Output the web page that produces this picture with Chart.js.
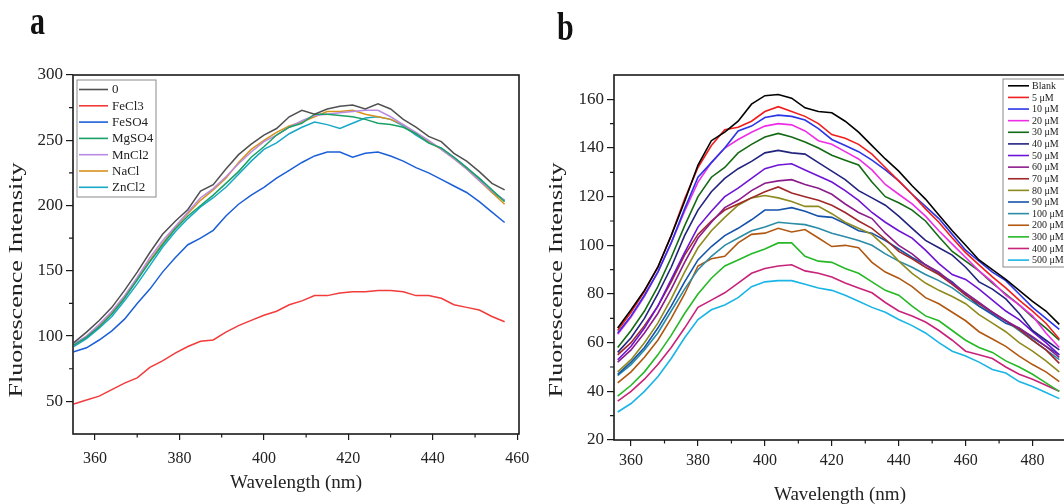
<!DOCTYPE html>
<html>
<head>
<meta charset="utf-8">
<script src="https://cdn.jsdelivr.net/npm/chart.js@4/dist/chart.umd.min.js"></script>
<style>
  html, body { margin: 0; padding: 0; background: #fff; overflow: hidden; width: 1064px; height: 504px; }
  #chartA { position: absolute; left: 0; top: 0; }
  #chartB { position: absolute; left: 540px; top: 0; }
</style>
</head>
<body>
<canvas id="chartA" width="540" height="504"></canvas>
<canvas id="chartB" width="580" height="504"></canvas>
<script>
// ---- panel a : metal salts ----
const lambdaA = [355,358,361,364,367,370,373,376,379,382,385,388,391,394,397,400,403,406,409,412,415,418,421,424,427,430,433,436,439,442,445,448,451,454,457];
const ctrl0  = [95,103,112,122,135,149,164,178,188,197,211,216,228,239,247,254,259,268,273,270,274,276,277,274,278,274,266,260,253,249,240,234,226,217,212];
const fecl3  = [48,51,54,59,64,68,76,81,87,92,96,97,103,108,112,116,119,124,127,131,131,133,134,134,135,135,134,131,131,129,124,122,120,115,111];
const feso4  = [88,91,97,104,113,125,136,149,160,170,175,181,192,201,208,214,221,227,233,238,241,241,237,240,241,238,234,229,225,220,215,210,203,195,187];
const mgso4  = [93,99,107,117,129,143,157,170,182,192,200,208,217,226,237,245,254,260,263,270,270,269,268,266,263,262,260,255,248,244,237,229,221,212,203];
const mncl2  = [94,100,109,119,131,145,160,173,184,195,206,213,222,232,241,249,254,260,265,269,270,271,272,273,273,268,262,256,250,243,236,228,219,211,204];
const nacl   = [93,100,108,118,130,144,158,171,183,194,204,212,221,233,243,250,256,261,264,268,272,272,273,270,268,266,262,255,249,243,236,228,219,210,201];
const zncl2  = [92,98,106,115,127,140,154,168,180,190,199,206,214,224,234,243,248,255,260,264,262,259,263,267,268,266,261,254,248,244,237,229,220,210,204];
const namesA  = ['0', 'FeCl3', 'FeSO4', 'MgSO4', 'MnCl2', 'NaCl', 'ZnCl2'];
const colorsA = ['#505050', '#f23b3b', '#1b5fd8', '#19a066', '#b98be3', '#d8921c', '#19a8c8'];
const valuesA = [ctrl0, fecl3, feso4, mgso4, mncl2, nacl, zncl2];

// ---- panel b : concentration series ----
const lambdaB = [356,360,364,368,372,376,380,384,388,392,396,400,404,408,412,416,420,424,428,432,436,440,444,448,452,456,460,464,468,472,476,480,484,488];
const bBlank = [66,73.5,81.5,91,104,118,133,143,146.5,151,158,161.5,162,160.5,156.5,155,154.5,151,146.5,141,135.5,130.5,124.5,119,112.5,106,100,94,90,86,81.5,77,73,67.5];
const b5     = [65,72.5,81,91,104,119,132,141,147.5,148.5,151,155,157,155,153,150,145.5,144,141.5,137.5,132,126.5,121,115,109.5,103,97,92,87,82.5,77.5,73,68,61.5];
const b10    = [64,71,79.5,89,101,115,128,134,140,147,149,152.5,153.5,153,151.5,148,143.5,141,138.5,135,131,126.5,121,116,111,104.5,98,93.5,89,85.5,80,74.5,70,65.5];
const b20    = [63.5,70.5,79,89,101,114,126,134,140,143.5,146.5,149,150,149.5,147,143,141.5,138.5,135.5,131,125,121,117,112,106,100.5,95,89.5,85,79.5,75.5,71,64,58];
const b30    = [58,65,73,83,95,108,120,128,132,138,141.5,144.5,146,144.5,142.5,140,137,135,133,126,120,117.5,114.5,110,103.5,97.5,93.5,89.5,84.5,80,75.5,70.5,66,61];
const b40    = [56,62,70,80,91,104,114.5,122,127.5,131.5,134.5,138,139,138,137.5,134,130.5,127,122.5,119.5,116.5,112,107,102,99,96,91,85,82,78,72,65,61,57];
const b50    = [53,58.5,66,75,86,97,107.5,114,120,123.5,127.5,131.5,133,133.5,131,128.5,126,122.5,118.5,113.5,109.5,106,103,98,92.5,88,86,82,77.5,73,69.5,64.5,60,55];
const b60    = [52,57,64,72,82,93,103,109.5,115.5,118.5,122.5,125.5,126.5,127,125,123.5,121,117,113.5,111,105,100,96.5,92,89,84.5,80.5,76.5,72.5,69,66,62.5,58.5,54];
const b70    = [55,60,67,75,85,96,104.5,110,114.5,117,119.5,122,124,121.5,120,118.5,116.5,113.5,110,107,102.5,97.5,94.5,91,88,84,79.5,76,72.5,69,65.5,61,57,51.5];
const b80    = [48,53,60,68,78,89,99,106,111.5,116.5,119.5,120.5,119.5,118,116,116,113,109.5,107,104.5,99.5,93.5,88.5,84.5,81.5,79,76,71.5,68,64.5,60,56.5,52.5,48];
const b90    = [47,52,58,66,75,85,94,99.5,104,107,110.5,114.5,114.5,115.5,114,112,111.5,109,106,105,102,98.5,95,92,88.5,85,80,75,71.5,68,66,62,58.5,55];
const b100   = [46.5,51,57,64,73,82,90,95.5,100,103,106,107.5,109.5,109,108.5,107,105,103.5,102,100,96.5,93.5,91,88,85.5,82.5,78.5,75,72,69,65,61,57,53];
const b200   = [43.5,48,54,61,70,80,91.5,94.5,95.5,101,104.5,105,107,105.5,106.5,103,99.5,100,99,93,89,86.5,83,78.5,76,72.5,69,64.5,61.5,58.5,54.5,51,48,44];
const b300   = [38,42.5,48,55,63,72,80,86.5,91.5,94,96.5,98.5,101,101,95.5,93.5,93,90.5,88.5,85,81.5,79.5,75,71,69,65,61,58,56,52.5,50,47,43.5,40];
const b400   = [36,40,45,51,58,66,74.5,77.5,80.5,84.5,88.5,90.5,91.5,92,89.5,88.5,87,84.5,82.5,80.5,76.5,73,71,68.5,65,61,56.5,55,53.5,50,47,45,42.5,40];
const b500   = [31.5,35,40,46,53.5,62,69.5,73.5,75.5,78.5,83,85,85.5,85.5,84,82.5,81.5,79.5,77,74.5,72.5,69.5,67,64,60,56.5,54.5,52,49,47.5,44,42,39.5,37];
const namesB  = ['Blank','5 μM','10 μM','20 μM','30 μM','40 μM','50 μM','60 μM','70 μM','80 μM','90 μM','100 μM','200 μM','300 μM','400 μM','500 μM'];
const colorsB = ['#000000','#f01e1e','#2b35e6','#ee2ee6','#146a14','#22237f','#6e14d4','#8c1c8c','#a0282a','#8e8a1e','#1553aa','#2a8ca6','#b05812','#26b826','#c8237a','#1ab4e6'];
const valuesB = [bBlank,b5,b10,b20,b30,b40,b50,b60,b70,b80,b90,b100,b200,b300,b400,b500];

Chart.defaults.font.family = "'Liberation Serif', 'Times New Roman', serif";
Chart.defaults.color = '#222';

function series(xs, ys) {
  return xs.map((x, i) => ({ x: x, y: ys[i] }));
}

function stretchText(ctx, txt, cx, cy, size, len, vertical) {
  ctx.save();
  ctx.font = size + "px 'Liberation Serif', serif";
  const w = ctx.measureText(txt).width;
  ctx.translate(cx, cy);
  if (vertical) ctx.rotate(-Math.PI / 2);
  ctx.scale(len ? len / w : 1, 1);
  ctx.textAlign = 'center';
  ctx.textBaseline = 'middle';
  ctx.fillStyle = '#222';
  ctx.fillText(txt, 0, 0);
  ctx.restore();
}

// frame, minor ticks, legend box, axis titles and panel letter
const decoPlugin = {
  id: 'deco',
  afterDraw(chart, args, o) {
    const ctx = chart.ctx, a = chart.chartArea;
    const sx = chart.scales.x, sy = chart.scales.y;
    ctx.save();
    ctx.strokeStyle = '#1a1a1a';
    ctx.lineWidth = 1.6;
    ctx.strokeRect(a.left, a.top, a.right - a.left, a.bottom - a.top);

    ctx.lineWidth = 1.2;
    ctx.beginPath();
    for (let v = o.xMinor[0]; v < sx.max; v += o.xMinor[1]) {
      const px = sx.getPixelForValue(v);
      ctx.moveTo(px, a.bottom); ctx.lineTo(px, a.bottom + 3.5);
    }
    for (let v = o.yMinor[0]; v < sy.max; v += o.yMinor[1]) {
      const py = sy.getPixelForValue(v);
      ctx.moveTo(a.left, py); ctx.lineTo(a.left - 4, py);
    }
    ctx.stroke();

    // legend
    const L = o.legend;
    ctx.strokeStyle = '#8a8a8a';
    ctx.lineWidth = 1;
    ctx.strokeRect(L.x, L.y, L.w, L.h);
    ctx.font = L.size + "px 'Liberation Serif', serif";
    ctx.textBaseline = 'middle';
    ctx.textAlign = 'left';
    chart.data.datasets.forEach((ds, i) => {
      const yy = L.first + i * L.gap;
      ctx.strokeStyle = ds.borderColor;
      ctx.lineWidth = 1.6;
      ctx.beginPath();
      ctx.moveTo(L.x + L.l0, yy); ctx.lineTo(L.x + L.l1, yy);
      ctx.stroke();
      ctx.fillStyle = '#222';
      ctx.fillText(ds.label, L.x + L.tx, yy + 0.5);
    });

    // axis titles
    stretchText(ctx, 'Wavelength (nm)', o.xTitle[0], o.xTitle[1], 19, 0, false);
    stretchText(ctx, 'Fluorescence Intensity', o.yTitle[0], o.yTitle[1], 19, 235, true);

    // panel letter
    ctx.save();
    ctx.translate(o.letter[1], o.letter[2]);
    ctx.scale(1, 1.3);
    ctx.font = "bold 30px 'Liberation Serif', serif";
    ctx.textAlign = 'left';
    ctx.textBaseline = 'alphabetic';
    ctx.fillStyle = '#111';
    ctx.fillText(o.letter[0], 0, 0);
    ctx.restore();

    ctx.restore();
  }
};

function axisX(min, max, h, pad) {
  return {
    type: 'linear', min: min, max: max,
    afterFit: s => { s.height = h; },
    grid: { drawOnChartArea: false, tickLength: 6, color: '#1a1a1a', lineWidth: 1.2 },
    border: { display: false },
    ticks: { stepSize: 20, includeBounds: false, autoSkip: false, maxRotation: 0, padding: pad, font: { size: 16 } }
  };
}

function axisY(min, max, step, w) {
  return {
    type: 'linear', min: min, max: max,
    afterFit: s => { s.width = w; },
    grid: { drawOnChartArea: false, tickLength: 7, color: '#1a1a1a', lineWidth: 1.2 },
    border: { display: false },
    ticks: { stepSize: step, includeBounds: false, autoSkip: false, padding: 3, font: { size: 17 } }
  };
}

new Chart(document.getElementById('chartA'), {
  type: 'line',
  data: {
    datasets: valuesA.map((v, i) => ({
      label: namesA[i], data: series(lambdaA, v), borderColor: colorsA[i],
      borderWidth: 1.5, pointRadius: 0, fill: false
    }))
  },
  options: {
    responsive: false, animation: false, events: [],
    layout: { padding: { top: 75, right: 21, left: 0, bottom: 0 } },
    scales: { x: axisX(354.8, 460.4, 70, 9), y: axisY(25, 300, 50, 73) },
    plugins: {
      legend: { display: false }, tooltip: { enabled: false },
      deco: {
        xMinor: [370, 20], yMinor: [75, 50],
        legend: { x: 77, y: 80, w: 79, h: 117, first: 89.5, gap: 16.3, l0: 2, l1: 31, tx: 35, size: 13 },
        xTitle: [296, 483], yTitle: [17, 280],
        letter: ['a', 30, 34]
      }
    }
  },
  plugins: [decoPlugin]
});

new Chart(document.getElementById('chartB'), {
  type: 'line',
  data: {
    datasets: valuesB.map((v, i) => ({
      label: namesB[i], data: series(lambdaB, v), borderColor: colorsB[i],
      borderWidth: 1.6, pointRadius: 0, fill: false
    }))
  },
  options: {
    responsive: false, animation: false, events: [],
    layout: { padding: { top: 75, right: 54, left: 0, bottom: 0 } },
    scales: { x: axisX(354.9, 490, 64, 5), y: axisY(20, 170, 20, 74) },
    plugins: {
      legend: { display: false }, tooltip: { enabled: false },
      deco: {
        xMinor: [370, 20], yMinor: [30, 20],
        legend: { x: 463, y: 79, w: 72, h: 188, first: 85.8, gap: 11.62, l0: 5, l1: 26, tx: 29, size: 10 },
        xTitle: [300, 495], yTitle: [17, 280],
        letter: ['b', 17, 40]
      }
    }
  },
  plugins: [decoPlugin]
});
</script>
</body>
</html>
